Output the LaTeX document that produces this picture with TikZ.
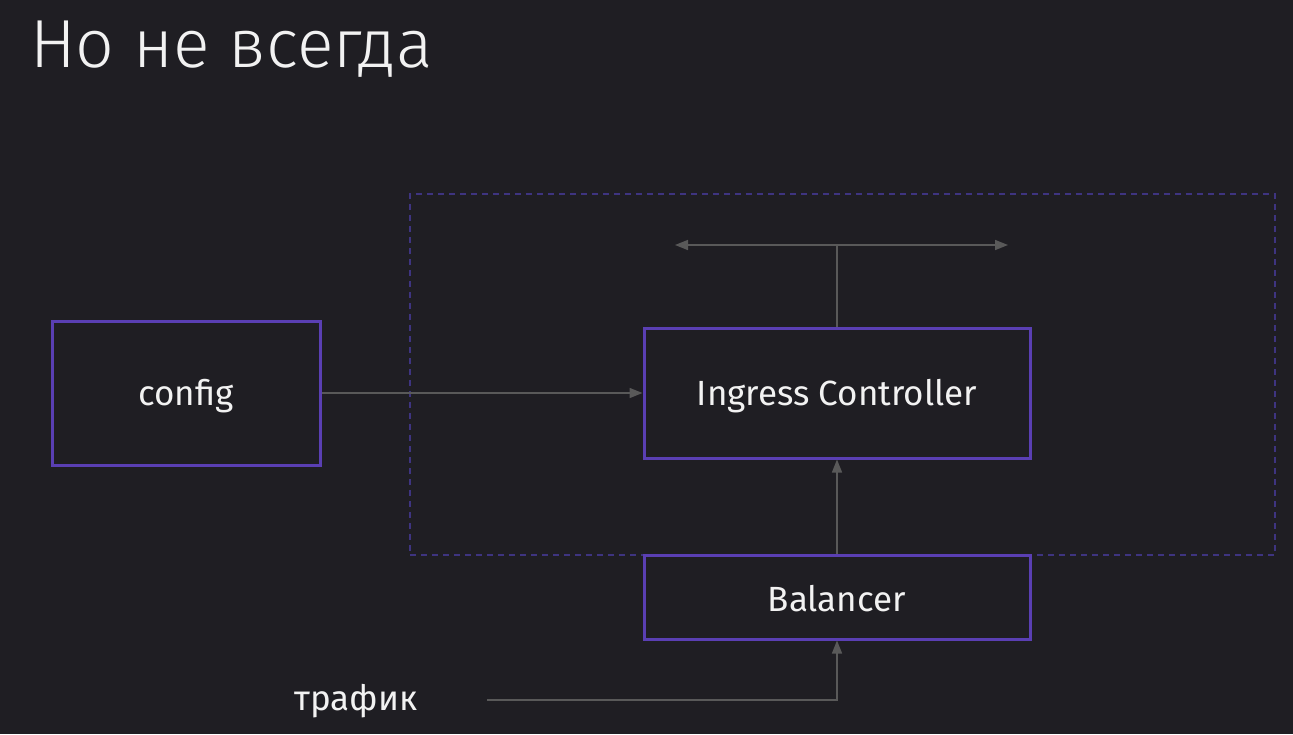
\documentclass[tikz,border=0pt]{standalone}
\usepackage{fontspec}
\setmainfont{Fira Sans}
\newfontfamily\lightfont{Fira Sans Light}
\usetikzlibrary{arrows.meta}
\definecolor{bg}{HTML}{1F1E23}
\definecolor{purp}{HTML}{5A3FB3}
\definecolor{dashc}{HTML}{3E3480}
\definecolor{linec}{HTML}{595959}
\definecolor{txt}{HTML}{F2F2F2}
\begin{document}
\begin{tikzpicture}[x=1pt,y=-1pt,
  box/.style={draw=purp, line width=3pt, inner sep=0pt, text=txt, font=\fontsize{35}{42}\selectfont},
  boxtext/.style={text=txt, inner sep=0pt, font=\fontsize{35}{42}\selectfont},
  conn/.style={draw=linec, line width=1.5pt, -{Triangle[length=13pt,width=10pt]}},
  plain/.style={draw=linec, line width=1.5pt},
  zonebox/.style={draw=dashc, line width=1.5pt, dash pattern=on 6pt off 5pt, inner sep=0pt}]
\fill[bg] (0,0) rectangle (1293,734);
\useasboundingbox (0,0) rectangle (1293,734);
\node[text=txt, anchor=base west, inner sep=0pt, font=\lightfont\fontsize{68}{80}\selectfont] (title) at (30,67) {Но не всегда};
\node[zonebox, minimum width=865pt, minimum height=361pt] (zone) at (842.5,374.5) {};
\node[box, minimum width=268pt, minimum height=144pt] (config) at (186,393) {};
\node[box, minimum width=386pt, minimum height=130pt] (ingress) at (837,393) {};
\node[box, minimum width=386pt, minimum height=84pt] (balancer) at (837,597) {};
\node[boxtext] (configlbl) at (186,396) {config};
\node[boxtext] (ingresslbl) at (837,396) {Ingress Controller};
\node[boxtext] (balancerlbl) at (837,599) {Balancer};
\node[boxtext] (traffic) at (356,701) {трафик};
\coordinate (J) at (837,245);
\coordinate (L) at (675,245);
\coordinate (R) at (1008,245);
\coordinate (T) at (487,700);
\draw[conn] (config) -- (ingress);
\draw[conn] (balancer) -- (ingress);
\draw[plain] (ingress.north) -- (J);
\draw[conn] (J) -- (L);
\draw[conn] (J) -- (R);
\draw[conn] (T) -| (balancer.south);
\end{tikzpicture}
\end{document}
